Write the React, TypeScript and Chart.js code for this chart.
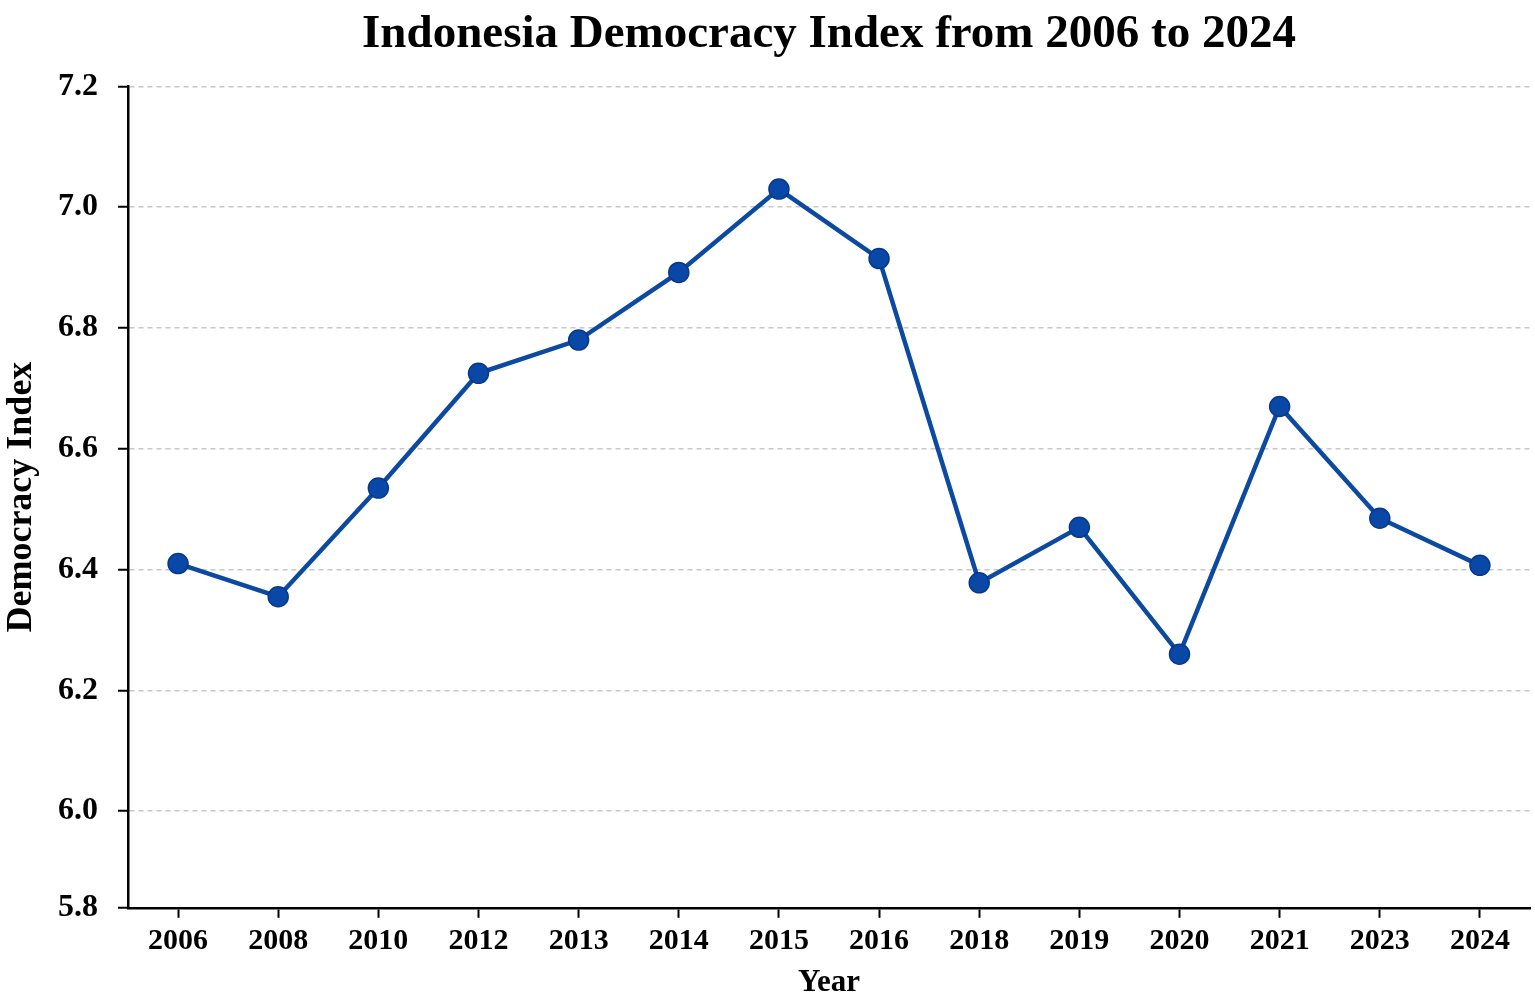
import React, { useEffect, useRef } from "react";
import { Chart, registerables } from "chart.js";

Chart.register(...registerables);

const years = ["2006", "2008", "2010", "2012", "2013", "2014", "2015", "2016", "2018", "2019", "2020", "2021", "2023", "2024"];
const indexValues = [6.41, 6.355, 6.535, 6.725, 6.78, 6.892, 7.03, 6.915, 6.378, 6.47, 6.26, 6.67, 6.485, 6.407];
const yTickValues = [5.84, 6.0, 6.2, 6.4, 6.6, 6.8, 7.0, 7.2];
const yTickLabels = ["5.8", "6.0", "6.2", "6.4", "6.6", "6.8", "7.0", "7.2"];

const FONT = "'Liberation Serif', 'Times New Roman', serif";

export default function App() {
  const ref = useRef<HTMLCanvasElement | null>(null);
  useEffect(() => {
    if (!ref.current) return;
    const chart = new Chart(ref.current, {
      type: "line",
      data: {
        labels: years,
        datasets: [
          {
            data: indexValues,
            borderColor: "#0b4aa0",
            borderWidth: 4.5,
            backgroundColor: "#0a48a8",
            pointBackgroundColor: "#0a48a8",
            pointBorderColor: "#08388c",
            pointBorderWidth: 1.5,
            pointRadius: 10,
            tension: 0,
            fill: false,
            clip: false,
          },
        ],
      },
      options: {
        animation: false,
        responsive: false,
        maintainAspectRatio: false,
        layout: { autoPadding: false, padding: { left: 0, right: 5, top: 0, bottom: -3 } },
        plugins: {
          legend: { display: false },
          tooltip: { enabled: false },
          title: {
            display: true,
            fullSize: false,
            text: "Indonesia Democracy Index from 2006 to 2024",
            color: "#000",
            font: { family: FONT, size: 47, weight: "bold" },
            padding: { top: 7, bottom: 23 },
          },
        },
        scales: {
          x: {
            type: "category",
            offset: true,
            afterFit: (scale: any) => {
              scale.paddingLeft = 0;
              scale.paddingRight = 0;
            },
            grid: {
              display: true,
              drawOnChartArea: false,
              drawTicks: true,
              tickLength: 10,
              tickColor: "#000",
              tickWidth: 2,
            },
            border: { display: true, color: "#000", width: 2.5 },
            ticks: {
              color: "#000",
              font: { family: FONT, size: 30, weight: "bold" },
              padding: 5,
              maxRotation: 0,
              autoSkip: false,
            },
            title: {
              display: true,
              text: "Year",
              color: "#000",
              font: { family: FONT, size: 31, weight: "bold" },
              padding: { top: 1, bottom: 0 },
            },
          },
          y: {
            type: "linear",
            min: 5.84,
            max: 7.2,
            afterBuildTicks: (scale: any) => {
              scale.ticks = yTickValues.map((v) => ({ value: v }));
            },
            afterFit: (scale: any) => {
              scale.width = 128;
            },
            grid: {
              display: true,
              drawOnChartArea: true,
              color: (ctx: any) => (ctx.tick && ctx.tick.value < 5.9 ? "rgba(0,0,0,0)" : "#c8c8c8"),
              lineWidth: 1.5,
              drawTicks: true,
              tickLength: 10,
              tickColor: "#000",
              tickWidth: 2,
            },
            border: { display: true, color: "#000", width: 2.5, dash: [5, 4] },
            ticks: {
              color: "#000",
              font: { family: FONT, size: 32, weight: "bold" },
              padding: 20,
              callback: (value: any) => {
                const i = yTickValues.findIndex((v) => Math.abs(v - Number(value)) < 1e-6);
                return i >= 0 ? yTickLabels[i] : "";
              },
            },
            title: {
              display: true,
              text: "Democracy Index",
              color: "#000",
              font: { family: FONT, size: 36, weight: "bold" },
              padding: { top: 0, bottom: 0 },
            },
          },
        },
      },
    });
    return () => chart.destroy();
  }, []);
  return (
    <div style={{ position: "fixed", left: 0, top: 0, width: 1535, height: 999, background: "#fff" }}>
      <canvas ref={ref} width={1535} height={999} style={{ width: 1535, height: 999, display: "block" }} />
    </div>
  );
}
